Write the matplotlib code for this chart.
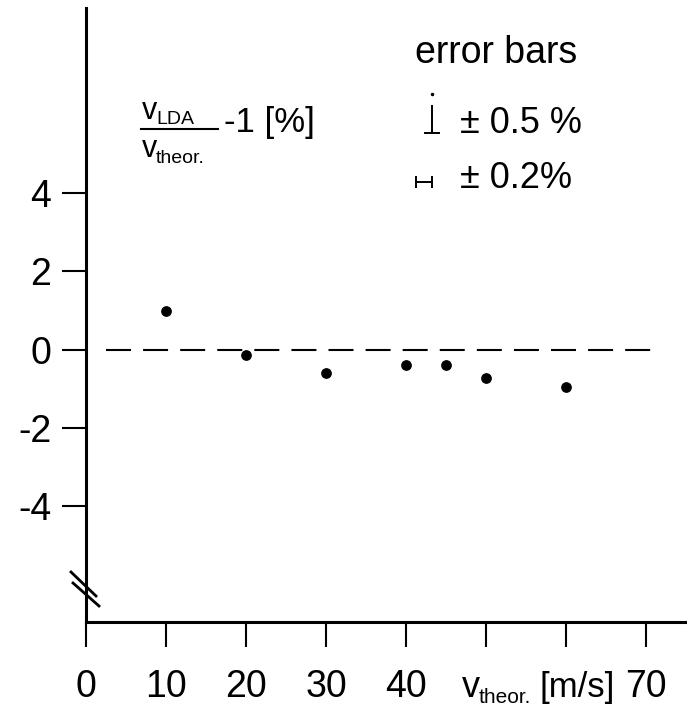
import matplotlib
matplotlib.use("Agg")
import matplotlib.pyplot as plt
from matplotlib.lines import Line2D

# ---- data ----
v_theor = [10, 20, 30, 40, 45, 50, 60]
deviation = [0.98, -0.15, -0.6, -0.4, -0.4, -0.73, -0.96]
x_ticks = [0, 10, 20, 30, 40, 50, 60, 70]
x_tick_labels = ["0", "10", "20", "30", "40", "", "", "70"]
y_ticks = [-4, -2, 0, 2, 4]
y_tick_labels = ["-4", "-2", "0", "2", "4"]
ref_line_x = [2.5, 71]
ref_line_y = [0, 0]

FONT = ["Liberation Sans", "DejaVu Sans"]
plt.rcParams["font.family"] = FONT

W, H = 687, 707
fig = plt.figure(figsize=(W / 100, H / 100), dpi=100)


def fx(x):
    return x / W


def fy(y):
    return 1 - y / H


ax = fig.add_axes([fx(86), fy(622), fx(687) - fx(86), fy(8) - fy(622)])
ax.set_xlim(0, 75.1)
ax.set_ylim(-6.95, 8.71)

ax.scatter(v_theor, deviation, s=45, color="black", zorder=3, clip_on=False)
ax.plot(ref_line_x, ref_line_y, color="black", lw=1.5, dashes=(12, 5.8))

for s in ["top", "right"]:
    ax.spines[s].set_visible(False)
for s in ["left", "bottom"]:
    ax.spines[s].set_linewidth(2.2)

ax.set_xticks(x_ticks)
ax.set_xticklabels(x_tick_labels)
ax.set_yticks(y_ticks)
ax.set_yticklabels(y_tick_labels)
ax.tick_params(axis="x", direction="out", length=18, width=1.5, pad=16,
               labelsize=27)
ax.tick_params(axis="y", direction="out", length=17, width=1.5, pad=8,
               labelsize=27)

# x-axis label in the tick label row
fig.text(fx(462), fy(697), "v", fontsize=26, ha="left", va="baseline")
fig.text(fx(479), fy(703), "theor.", fontsize=15, ha="left", va="baseline")
fig.text(fx(540), fy(697), "[m/s]", fontsize=25, ha="left", va="baseline")

# axis break mark
for (x0, y0, x1, y1) in [(71, 572, 96, 596), (73, 583, 99, 606)]:
    fig.add_artist(Line2D([fx(x0), fx(x1)], [fy(y0), fy(y1)],
                          transform=fig.transFigure, color="black", lw=2))

# y-label as fraction
fig.text(fx(142), fy(119), "v", fontsize=22, ha="left", va="baseline")
fig.text(fx(156), fy(124), "LDA", fontsize=14, ha="left", va="baseline")
fig.add_artist(Line2D([fx(141), fx(218)], [fy(129), fy(129)],
                      transform=fig.transFigure, color="black", lw=1.5))
fig.text(fx(142), fy(157), "v", fontsize=22, ha="left", va="baseline")
fig.text(fx(156), fy(163), "theor.", fontsize=14, ha="left", va="baseline")
fig.text(fx(224), fy(132), "-1 [%]", fontsize=25, ha="left", va="baseline")

# error bars legend
fig.text(fx(415), fy(63), "error bars", fontsize=27, ha="left", va="baseline")
fig.add_artist(Line2D([fx(432), fx(432)], [fy(106), fy(133)],
                      transform=fig.transFigure, color="black", lw=1.4))
fig.add_artist(Line2D([fx(425), fx(439)], [fy(133), fy(133)],
                      transform=fig.transFigure, color="black", lw=1.4))
fig.add_artist(Line2D([fx(432)], [fy(94)], marker="o", markersize=1.5,
                      transform=fig.transFigure, color="black"))
fig.text(fx(460), fy(133), "± 0.5 %", fontsize=26, ha="left", va="baseline")

fig.add_artist(Line2D([fx(416), fx(432)], [fy(182), fy(182)],
                      transform=fig.transFigure, color="black", lw=1.4))
for xx in (416, 432):
    fig.add_artist(Line2D([fx(xx), fx(xx)], [fy(177), fy(187)],
                          transform=fig.transFigure, color="black", lw=1.4))
fig.text(fx(460), fy(188), "± 0.2%", fontsize=26, ha="left", va="baseline")

fig.savefig("out.png", dpi=100)
